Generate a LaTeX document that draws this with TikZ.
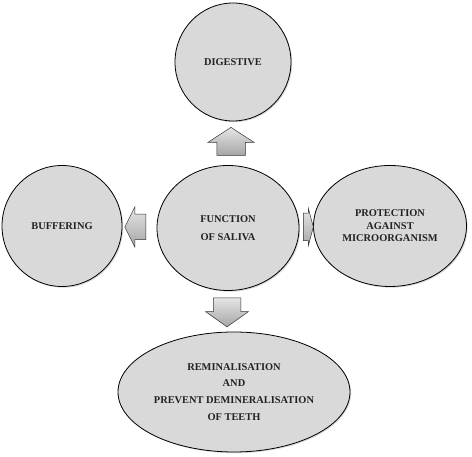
\documentclass[tikz,border=0pt]{standalone}
\usepackage{fontspec}
\setmainfont{Liberation Serif}
\usepackage{tikz}
\usetikzlibrary{positioning}
\usetikzlibrary{shapes.geometric,shapes.arrows}
\usetikzlibrary{shadows}
\definecolor{bubblefill}{RGB}{217,217,217}
\definecolor{bubbletext}{RGB}{34,34,34}
\tikzset{
  bubble/.style={draw=black,line width=0.8pt,fill=bubblefill,ellipse,inner sep=0pt,align=center,
    text=bubbletext,font=\bfseries\fontsize{10.4}{12.4}\selectfont,
    drop shadow={shadow xshift=1.2pt,shadow yshift=-1.2pt,opacity=0.3}},
  blockarrow/.style={draw=black!80,line width=0.5pt,single arrow,inner sep=0pt,
    single arrow head indent=0pt,top color=gray!20,bottom color=gray!70}
}

\begin{document}
\begin{tikzpicture}[x=1pt,y=1pt]
\useasboundingbox (0,0) rectangle (472,457);

%centre bubble
\node (saliva) at (228,229) [bubble,minimum width=142pt,minimum height=125pt] {FUNCTION\\[5.5pt]OF SALIVA};

%outer bubbles
\node (digest) at (233,395) [bubble,minimum width=116pt,minimum height=118pt] {DIGESTIVE};
\node (buffer) at (62,231) [bubble,minimum width=120pt,minimum height=121pt] {BUFFERING};
\node (protect) at (390,231) [bubble,minimum width=153pt,minimum height=121pt] {PROTECTION\\AGAINST\\MICROORGANISM};
\node (remin) at (234,65) [bubble,minimum width=232pt,minimum height=120pt] {REMINALISATION\\[4.5pt]AND\\[4.5pt]PREVENT DEMINERALISATION\\[4.5pt]OF TEETH};

%block arrows
\node (toDigest) at (231,311) [blockarrow,rotate=90,minimum height=28pt,inner ysep=14pt,
  single arrow head extend=9pt,single arrow tip angle=114] {};
\node (toRemin) at (227,149.5) [blockarrow,rotate=-90,minimum height=29pt,inner ysep=13.5pt,
  single arrow head extend=7.5pt,single arrow tip angle=109] {};
\node (toBuffer) at (138.5,230) [blockarrow,rotate=180,minimum height=21pt,inner ysep=12.5pt,
  single arrow head extend=7.5pt,single arrow tip angle=127] {};
\node (toProtect) at (306.5,230) [blockarrow,minimum height=10pt,inner ysep=13.5pt,
  single arrow head extend=5pt,single arrow tip angle=150] {};
\end{tikzpicture}
\end{document}
